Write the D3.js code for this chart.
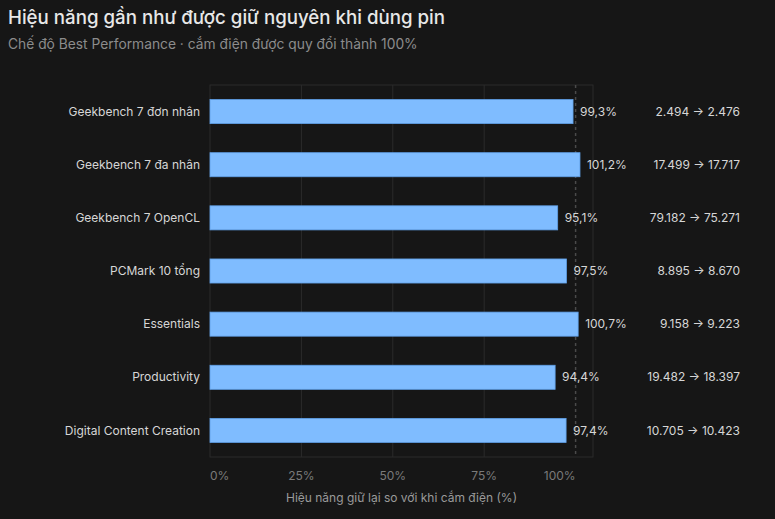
<!DOCTYPE html>
<html>
<head>
<meta charset="utf-8">
<script src="https://cdn.jsdelivr.net/npm/d3@7"></script>
<style>
  html, body { margin: 0; padding: 0; background: #161616; }
  svg { display: block; font-family: Inter, "Noto Sans", sans-serif; }
</style>
</head>
<body>
<svg width="775" height="519"></svg>
<script>
const categories = ['Geekbench 7 đơn nhân', 'Geekbench 7 đa nhân', 'Geekbench 7 OpenCL', 'PCMark 10 tổng', 'Essentials', 'Productivity', 'Digital Content Creation'];
const retained = [99.3, 101.2, 95.1, 97.5, 100.7, 94.4, 97.4];
const plugged = ['2.494', '17.499', '79.182', '8.895', '9.158', '19.482', '10.705'];
const battery = ['2.476', '17.717', '75.271', '8.670', '9.223', '18.397', '10.423'];
const ticks = [0, 25, 50, 75, 100];

const svg = d3.select('svg');
const width = +svg.attr('width');
const height = +svg.attr('height');
svg.append('rect').attr('width', width).attr('height', height).attr('fill', '#161616');

const m = { left: 210, right: 593, top: 85, bottom: 457 };

const x = d3.scaleLinear().domain([0, 104.76]).range([m.left, m.right]);
const y = d3.scaleBand().domain(categories).range([m.top, m.bottom]).paddingInner(0.547).paddingOuter(0.2735);

const data = categories.map((c, i) => ({ c, v: retained[i], a: plugged[i], b: battery[i] }));

// title
svg.append('text').attr('x', 8).attr('y', 24)
  .attr('fill', '#e8e8e8').attr('font-size', 18.7).attr('font-weight', 500)
  .text('Hiệu năng gần như được giữ nguyên khi dùng pin');
svg.append('text').attr('x', 8).attr('y', 49)
  .attr('fill', '#8c8c8c').attr('font-size', 13.8)
  .text('Chế độ Best Performance · cắm điện được quy đổi thành 100%');

// grid
svg.append('g').selectAll('line').data(ticks.slice(1, -1)).join('line')
  .attr('x1', d => x(d)).attr('x2', d => x(d))
  .attr('y1', m.top).attr('y2', m.bottom)
  .attr('stroke', '#2b2b2b').attr('stroke-width', 1);

// frame
svg.append('rect').attr('x', m.left).attr('y', m.top)
  .attr('width', m.right - m.left).attr('height', m.bottom - m.top)
  .attr('fill', 'none').attr('stroke', '#2b2b2b').attr('stroke-width', 1);

// 100% reference (behind bars)
svg.append('line').attr('x1', x(100)).attr('x2', x(100))
  .attr('y1', m.top).attr('y2', m.bottom)
  .attr('stroke', '#4a4a4a').attr('stroke-width', 1.5).attr('stroke-dasharray', '3,3');

// bars
svg.append('g').selectAll('rect').data(data).join('rect')
  .attr('x', x(0)).attr('y', d => y(d.c))
  .attr('width', d => x(d.v) - x(0)).attr('height', y.bandwidth())
  .attr('fill', '#7fbcff').attr('stroke', '#5f9fe6').attr('stroke-width', 0.8);

// category labels
svg.append('g').selectAll('text').data(data).join('text')
  .attr('x', m.left - 10).attr('y', d => y(d.c) + y.bandwidth() / 2)
  .attr('dy', '0.35em').attr('text-anchor', 'end')
  .attr('fill', '#d6d6d6').attr('font-size', 12)
  .text(d => d.c);

// value labels
svg.append('g').selectAll('text').data(data).join('text')
  .attr('x', d => x(d.v) + 7).attr('y', d => y(d.c) + y.bandwidth() / 2)
  .attr('dy', '0.35em')
  .attr('fill', '#d6d6d6').attr('font-size', 12)
  .text(d => d3.format('.1f')(d.v).replace('.', ',') + '%');

// raw scores
svg.append('g').selectAll('text').data(data).join('text')
  .attr('x', 740).attr('y', d => y(d.c) + y.bandwidth() / 2)
  .attr('dy', '0.35em').attr('text-anchor', 'end')
  .attr('fill', '#d6d6d6').attr('font-size', 12)
  .text(d => d.a + ' → ' + d.b);

// x axis labels
svg.append('g').selectAll('text').data(ticks).join('text')
  .attr('x', d => x(d)).attr('y', 476).attr('dy', '0.35em')
  .attr('text-anchor', (d, i) => i === 0 ? 'start' : i === ticks.length - 1 ? 'end' : 'middle')
  .attr('fill', '#7a7a7a').attr('font-size', 12)
  .text(d => d + '%');

svg.append('text').attr('x', (m.left + m.right) / 2).attr('y', 498).attr('dy', '0.35em')
  .attr('text-anchor', 'middle').attr('fill', '#9a9a9a').attr('font-size', 12)
  .text('Hiệu năng giữ lại so với khi cắm điện (%)');
</script>
</body>
</html>
